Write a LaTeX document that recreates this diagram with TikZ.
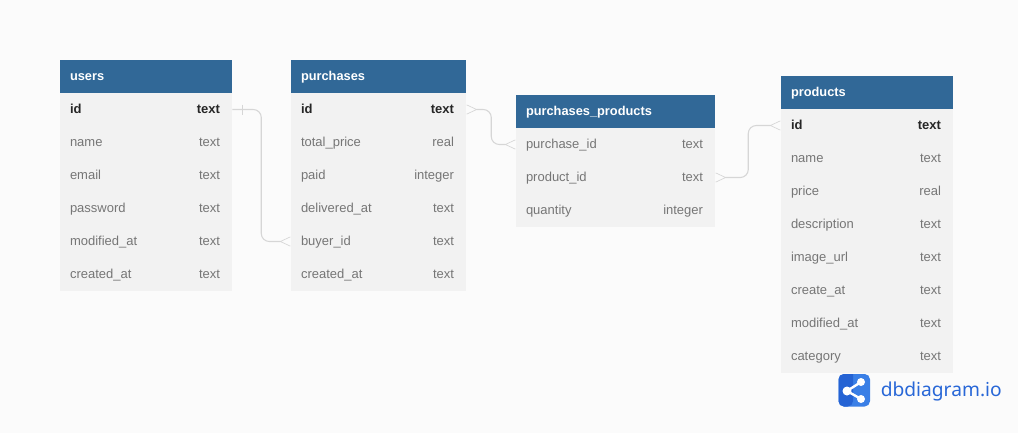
\documentclass[tikz,border=0pt]{standalone}
\usepackage{xcolor}
\usepackage{fontspec}
\setmainfont{Liberation Sans}
\newfontfamily\logofont{Noto Sans}
\usetikzlibrary{arrows.meta}

\definecolor{headblue}{HTML}{316897}
\definecolor{rowgray}{HTML}{F2F2F2}
\definecolor{pagegray}{HTML}{FBFBFB}
\definecolor{fieldgray}{HTML}{767676}
\definecolor{linkgray}{HTML}{D6D6D6}
\definecolor{logoleft}{HTML}{2563D4}
\definecolor{logoright}{HTML}{3A7FE6}

\tikzset{
	cell/.style={inner xsep=8.25pt,inner ysep=0pt,minimum height=24.75pt,text width=#1,align=left,text height=8pt,text depth=1.5pt,font=\fontsize{9.75}{11}\selectfont,execute at begin node=\hspace*{-0.75pt},execute at end node=\hspace*{0.75pt}},
	head/.style={cell=#1,fill=headblue,text=white,font=\fontsize{9.6}{11}\selectfont\bfseries},
	field/.style={cell=#1,fill=rowgray,text=fieldgray},
	key/.style={cell=#1,fill=rowgray,text=black!85,font=\fontsize{9.75}{11}\selectfont\bfseries},
	link/.style={draw=linkgray,line width=0.8pt,rounded corners=6pt},
	crow/.tip={Straight Barb[reversed,length=7.5pt,width=7pt,line width=0.5pt]},
}

\begin{document}
\begin{tikzpicture}[x=0.75pt,y=-0.75pt]
	\fill[pagegray] (0,0) rectangle (1018,433);
	\useasboundingbox (0,0) rectangle (1018,433);

	% users
	\node[head=112.5pt] (users) at (146,76.5) {users};
	\node[key=112.5pt] (users_id) at (146,109.5) {id\hfill text};
	\node[field=112.5pt] (users_name) at (146,142.5) {name\hfill text};
	\node[field=112.5pt] (users_email) at (146,175.5) {email\hfill text};
	\node[field=112.5pt] (users_password) at (146,208.5) {password\hfill text};
	\node[field=112.5pt] (users_modified) at (146,241.5) {modified\_at\hfill text};
	\node[field=112.5pt] (users_created) at (146,274.5) {created\_at\hfill text};

	% purchases
	\node[head=114.75pt] (purch) at (378.5,76.5) {purchases};
	\node[key=114.75pt] (purch_id) at (378.5,109.5) {id\hfill text};
	\node[field=114.75pt] (purch_total) at (378.5,142.5) {total\_price\hfill real};
	\node[field=114.75pt] (purch_paid) at (378.5,175.5) {paid\hfill integer};
	\node[field=114.75pt] (purch_delivered) at (378.5,208.5) {delivered\_at\hfill text};
	\node[field=114.75pt] (purch_buyer) at (378.5,241.5) {buyer\_id\hfill text};
	\node[field=114.75pt] (purch_created) at (378.5,274.5) {created\_at\hfill text};

	% purchases_products
	\node[head=132.75pt] (pp) at (615.5,111.5) {purchases\_products};
	\node[field=132.75pt] (pp_purchase) at (615.5,144.5) {purchase\_id\hfill text};
	\node[field=132.75pt] (pp_product) at (615.5,177.5) {product\_id\hfill text};
	\node[field=132.75pt] (pp_quantity) at (615.5,210.5) {quantity\hfill integer};

	% products
	\node[head=112.5pt] (prod) at (867,92.5) {products};
	\node[key=112.5pt] (prod_id) at (867,125.5) {id\hfill text};
	\node[field=112.5pt] (prod_name) at (867,158.5) {name\hfill text};
	\node[field=112.5pt] (prod_price) at (867,191.5) {price\hfill real};
	\node[field=112.5pt] (prod_description) at (867,224.5) {description\hfill text};
	\node[field=112.5pt] (prod_image) at (867,257.5) {image\_url\hfill text};
	\node[field=112.5pt] (prod_create) at (867,290.5) {create\_at\hfill text};
	\node[field=112.5pt] (prod_modified) at (867,323.5) {modified\_at\hfill text};
	\node[field=112.5pt] (prod_category) at (867,356.5) {category\hfill text};

	% links
	\draw[link,-crow] (users_id.east) -- ++(29,0) |- (purch_buyer.west);
	\draw[link,line width=0.5pt] (242,104.5) -- (242,114.5);
	\draw[link,crow-crow] (purch_id.east) -- ++(25,0) |- (pp_purchase.west);
	\draw[link,crow-crow] (pp_product.east) -- ++(33,0) |- (prod_id.west);

	% logo
	\fill[logoright,rounded corners=4pt] (838.5,374) rectangle (870,406.5);
	\fill[logoleft,rounded corners=4pt] (853,374) -- (838.5,374) -- (838.5,406.5) -- (853,406.5) [sharp corners] -- cycle;
	\draw[white,line width=1.8pt] (861,382) -- (847,391) -- (861,399);
	\fill[white] (847,391) circle (4.5) (861,382) circle (4) (861,399) circle (4);
	\node[anchor=base west,inner sep=0pt,text=logoleft!85!logoright,font=\logofont\fontsize{14.4}{18}\selectfont] (logo) at (880.5,396.5) {dbdiagram.io};
\end{tikzpicture}
\end{document}
